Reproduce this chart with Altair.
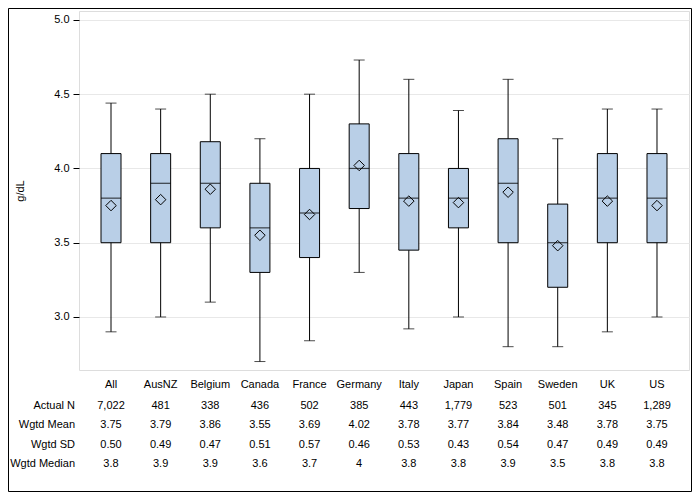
import altair as alt
import pandas as pd

categories = ["All", "AusNZ", "Belgium", "Canada", "France", "Germany",
              "Italy", "Japan", "Spain", "Sweden", "UK", "US"]
whisker_low = [2.90, 3.00, 3.10, 2.70, 2.84, 3.30, 2.92, 3.00, 2.80, 2.80, 2.90, 3.00]
q1 = [3.50, 3.50, 3.60, 3.30, 3.40, 3.73, 3.45, 3.60, 3.50, 3.20, 3.50, 3.50]
median = [3.8, 3.9, 3.9, 3.6, 3.7, 4.0, 3.8, 3.8, 3.9, 3.5, 3.8, 3.8]
q3 = [4.10, 4.10, 4.18, 3.90, 4.00, 4.30, 4.10, 4.00, 4.20, 3.76, 4.10, 4.10]
whisker_high = [4.44, 4.40, 4.50, 4.20, 4.50, 4.73, 4.60, 4.39, 4.60, 4.20, 4.40, 4.40]
mean = [3.75, 3.79, 3.86, 3.55, 3.69, 4.02, 3.78, 3.77, 3.84, 3.48, 3.78, 3.75]

row_labels = ["Actual N", "Wgtd Mean", "Wgtd SD", "Wgtd Median"]
actual_n = ["7,022", "481", "338", "436", "502", "385", "443", "1,779", "523", "501", "345", "1,289"]
wgtd_mean = ["3.75", "3.79", "3.86", "3.55", "3.69", "4.02", "3.78", "3.77", "3.84", "3.48", "3.78", "3.75"]
wgtd_sd = ["0.50", "0.49", "0.47", "0.51", "0.57", "0.46", "0.53", "0.43", "0.54", "0.47", "0.49", "0.49"]
wgtd_median = ["3.8", "3.9", "3.9", "3.6", "3.7", "4", "3.8", "3.8", "3.9", "3.5", "3.8", "3.8"]

y_ticks = [3.0, 3.5, 4.0, 4.5, 5.0]

FONT = "Liberation Sans"
FILL = "#B9CFE7"

df = pd.DataFrame({
    "cat": categories, "low": whisker_low, "q1": q1, "med": median,
    "q3": q3, "high": whisker_high, "mean": mean,
    "n": actual_n, "wm": wgtd_mean, "wsd": wgtd_sd, "wmed": wgtd_median,
})

xs = alt.Scale(domain=categories, paddingInner=0, paddingOuter=0.145)
X = alt.X("cat:N", scale=xs, axis=None, sort=categories)
ys = alt.Scale(domain=[2.643, 5.06], nice=False, zero=False)
Y_axis = alt.Axis(values=y_ticks, format=".1f", tickSize=6, labelPadding=4,
                  grid=True, gridColor="#E8E8E8", domain=False,
                  title="g/dL", titleFontWeight="normal", titleFontSize=11,
                  titleFont=FONT, titleColor="black", titleX=-59, titleY=179.5,
                  titleBaseline="middle", titleAlign="center",
                  labelFont=FONT, labelFontSize=11, labelColor="black",
                  tickColor="black")

base = alt.Chart(df)

whisk = base.mark_rule(color="black", strokeWidth=1).encode(
    x=X, y=alt.Y("low:Q", scale=ys, axis=Y_axis), y2="high:Q")
cap_lo = base.mark_tick(color="black", size=11, thickness=1).encode(
    x=X, y=alt.Y("low:Q", scale=ys))
cap_hi = base.mark_tick(color="black", size=11, thickness=1).encode(
    x=X, y=alt.Y("high:Q", scale=ys))
box = base.mark_bar(size=20, fill=FILL, stroke="black", strokeWidth=1).encode(
    x=X, y=alt.Y("q1:Q", scale=ys), y2="q3:Q")
med = base.mark_tick(color="black", size=20, thickness=1.2).encode(
    x=X, y=alt.Y("med:Q", scale=ys))
mn = base.mark_point(shape="diamond", size=110, filled=False, stroke="black",
                     strokeWidth=1, opacity=1).encode(
    x=X, y=alt.Y("mean:Q", scale=ys))

layers = [whisk, cap_lo, cap_hi, box, med, mn]

def text_row(field, ypix):
    return base.mark_text(font=FONT, fontSize=11, color="black", align="center",
                          baseline="middle", clip=False).encode(
        x=X, y=alt.value(ypix), text=f"{field}:N")

layers.append(text_row("cat", 373.5))
row_y = [394.5, 414.3, 434.0, 453.0]
for fld, yp in zip(["n", "wm", "wsd", "wmed"], row_y):
    layers.append(text_row(fld, yp))

lab_df = pd.DataFrame({"lab": row_labels, "yp": row_y})
labels = alt.Chart(lab_df).mark_text(font=FONT, fontSize=11, color="black",
                                     align="right", baseline="middle", clip=False).encode(
    x=alt.value(-4), y=alt.Y("yp:Q", scale=None), text="lab:N")
layers.append(labels)

frame = alt.Chart(pd.DataFrame({"a": [0]})).mark_rect(
    fillOpacity=0, stroke="black", strokeWidth=1, clip=False).encode(
    x=alt.value(-70.5), x2=alt.value(612.5), y=alt.value(-2.5), y2=alt.value(480.5))
layers.append(frame)

chart = alt.layer(*layers).properties(
    width=610, height=359,
    autosize=alt.AutoSizeParams(type="none"),
    padding={"left": 71, "top": 3, "right": 3, "bottom": 122},
).configure_view(stroke="black", strokeWidth=1).configure(background="white")

chart.save("out.html", embed_options={"renderer": "svg", "actions": False})
